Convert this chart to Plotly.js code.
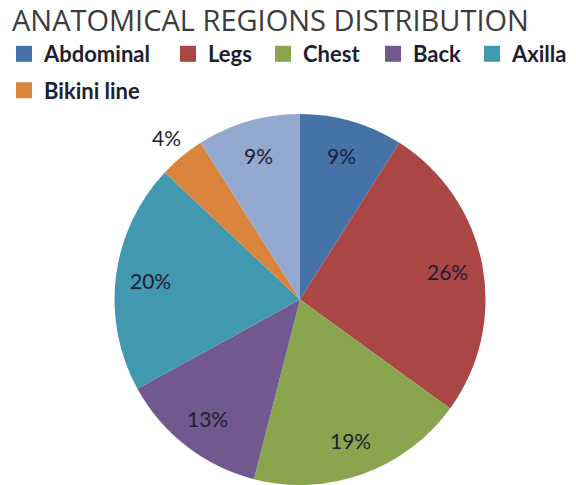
<!DOCTYPE html>
<html>
<head>
<meta charset="utf-8">
<script src="https://cdn.plot.ly/plotly-3.0.1.min.js"></script>
<style>html,body{margin:0;padding:0;background:#fff;}#chart{width:576px;height:485px;}</style>
</head>
<body>
<div id="chart"></div>
<script>
// Data
const labels = ["Abdominal", "Legs", "Chest", "Back", "Axilla", "Bikini line", "Other"];
const values = [9, 26, 19, 13, 20, 4, 9];
const colors = ["#4572A7", "#AA4643", "#89A54E", "#71588F", "#4198AF", "#DB843D", "#93A9CF"];
const legendLabels = ["Abdominal", "Legs", "Chest", "Back", "Axilla", "Bikini line"];

// Layout constants
const W = 576, H = 485;
const pieDomain = {x: [0.1979, 0.8438], y: [0, 0.765]};
const insideR = 0.81, outsideR = 1.13, smallSlice = 0.05;
// legend entry placement (pixels): left of legend box and vertical centre
const legendPx = [[4, 54], [168, 54], [263, 54], [373, 54], [472, 54], [4, 90.5]];

const labelFont = {family: "Lato, 'Noto Sans', sans-serif", size: 21, color: "#1e1e33"};
const legendFont = {family: "Lato, 'Noto Sans', sans-serif", size: 22, color: "#1e1e33", weight: "bold"};

const traces = [{
  type: "pie",
  labels: labels,
  values: values,
  sort: false,
  direction: "clockwise",
  rotation: 0,
  marker: {colors: colors, line: {width: 0}},
  textinfo: "none",
  showlegend: false,
  domain: pieDomain,
  hoverinfo: "label+percent"
}];

legendLabels.forEach(function (name, i) {
  traces.push({
    type: "scatter",
    mode: "markers",
    x: [null], y: [null],
    name: name,
    marker: {symbol: "square", size: 16, color: colors[i]},
    showlegend: true,
    legend: i === 0 ? "legend" : "legend" + (i + 1),
    hoverinfo: "skip"
  });
});

// Percentage labels placed along each slice's mid-angle
const total = values.reduce(function (a, b) { return a + b; }, 0);
const cx = (pieDomain.x[0] + pieDomain.x[1]) / 2;
const cy = (pieDomain.y[0] + pieDomain.y[1]) / 2;
const rPx = Math.min((pieDomain.x[1] - pieDomain.x[0]) * W, (pieDomain.y[1] - pieDomain.y[0]) * H) / 2;
const annotations = [];
let cum = 0;
values.forEach(function (v) {
  const frac = v / total;
  const mid = (cum + frac / 2) * 2 * Math.PI;
  cum += frac;
  const rf = frac < smallSlice ? outsideR : insideR;
  annotations.push({
    xref: "paper", yref: "paper",
    x: cx + rf * rPx * Math.sin(mid) / W,
    y: cy + rf * rPx * Math.cos(mid) / H,
    xanchor: "center", yanchor: "middle",
    text: Math.round(frac * 100) + "%",
    showarrow: false,
    font: labelFont
  });
});

const layout = {
  width: W,
  height: H,
  margin: {l: 0, r: 0, t: 0, b: 0},
  paper_bgcolor: "#ffffff",
  plot_bgcolor: "#ffffff",
  title: {
    text: "ANATOMICAL REGIONS DISTRIBUTION",
    font: {family: "'Open Sans', sans-serif", size: 29, color: "#3c3c3c"},
    x: 12 / W, xanchor: "left", xref: "paper",
    y: 1 - 21 / H, yanchor: "middle", yref: "container"
  },
  xaxis: {visible: false},
  yaxis: {visible: false},
  annotations: annotations,
  showlegend: true
};

legendPx.forEach(function (p, i) {
  layout[i === 0 ? "legend" : "legend" + (i + 1)] = {
    orientation: "h",
    x: p[0] / W, xanchor: "left",
    y: 1 - p[1] / H, yanchor: "middle",
    font: legendFont,
    bgcolor: "rgba(0,0,0,0)",
    itemclick: false, itemdoubleclick: false
  };
});

Plotly.newPlot("chart", traces, layout, {displayModeBar: false, staticPlot: true});
</script>
</body>
</html>
